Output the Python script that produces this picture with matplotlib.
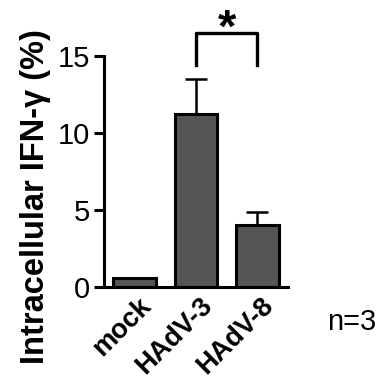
import matplotlib
matplotlib.use("Agg")
import matplotlib.pyplot as plt
from matplotlib.transforms import ScaledTranslation

categories = ["mock", "HAdV-3", "HAdV-8"]
means = [0.55, 11.2, 4.0]
errors = [0.05, 2.3, 0.85]
yticks = [0, 5, 10, 15]

plt.rcParams['font.family'] = ['Liberation Sans', 'DejaVu Sans']

fig = plt.figure(figsize=(3.84, 3.80), dpi=100)
ax = fig.add_axes([0.271, 0.245, 0.479, 0.608])

x = list(range(len(categories)))
ax.bar(x, means, width=0.7, color="#555555", edgecolor="black", linewidth=2.2, zorder=2)
ax.errorbar(x, means, yerr=[[0]*len(errors), errors], fmt='none', ecolor='black',
            elinewidth=1.8, capsize=8, capthick=1.8, zorder=1)

ax.set_xlim(-0.5, 2.5)
ax.set_ylim(0, 15)
ax.set_yticks(yticks)
ax.set_yticklabels([str(t) for t in yticks], fontsize=21)
ax.set_xticks(x)
ax.set_xticklabels(categories, rotation=45, ha='right', va='top', rotation_mode='anchor',
                   fontsize=19.5, fontweight='bold')
ax.tick_params(axis='x', length=0, pad=2)
offset = ScaledTranslation(3 / 100, -3 / 100, fig.dpi_scale_trans)
for lab in ax.get_xticklabels():
    lab.set_transform(lab.get_transform() + offset)
ax.tick_params(axis='y', length=7, width=2.2, pad=3)
for s in ['top', 'right']:
    ax.spines[s].set_visible(False)
for s in ['left', 'bottom']:
    ax.spines[s].set_linewidth(2.2)

ax.set_ylabel("Intracellular IFN-γ (%)", fontsize=23.5, fontweight='bold')
ax.yaxis.set_label_coords(-0.29, 0.39)

# significance bracket
ax.plot([1, 1, 2, 2], [14.4, 16.5, 16.5, 14.4], color='black', lw=2.4, clip_on=False)
ax.text(1.5, 15.95, "*", ha='center', va='baseline', fontsize=34, fontweight='bold')

fig.text(0.851, 0.153, "n=3", ha='left', va='center', fontsize=21)

fig.savefig("out.png", dpi=100)
